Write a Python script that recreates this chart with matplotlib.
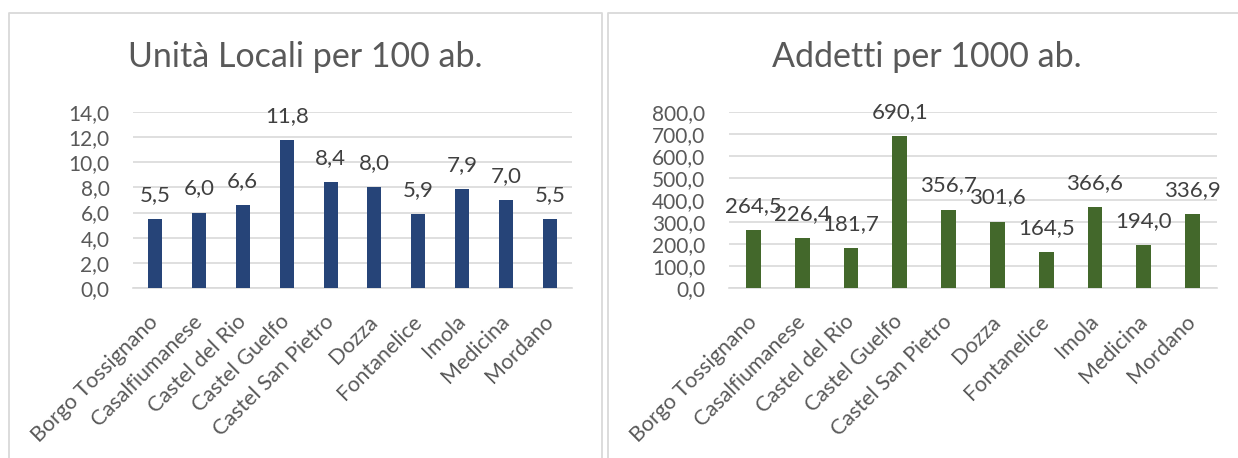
import matplotlib.pyplot as plt
from matplotlib.lines import Line2D
from matplotlib.ticker import FuncFormatter, MultipleLocator

# Dati
comuni = ['Borgo Tossignano', 'Casalfiumanese', 'Castel del Rio', 'Castel Guelfo',
          'Castel San Pietro', 'Dozza', 'Fontanelice', 'Imola', 'Medicina', 'Mordano']
unita_locali = [5.5, 6.0, 6.6, 11.8, 8.4, 8.0, 5.9, 7.9, 7.0, 5.5]
addetti = [264.5, 226.4, 181.7, 690.1, 356.7, 301.6, 164.5, 366.6, 194.0, 336.9]

titolo_sx = 'Unità Locali per 100 ab.'
titolo_dx = 'Addetti per 1000 ab.'

plt.rcParams['font.family'] = ['Lato', 'DejaVu Sans']

W, H = 1238, 458
fig = plt.figure(figsize=(W / 100, H / 100), dpi=100)

grigio = '#D9D9D9'
testo = '#595959'


def virgola(v, pos=None):
    return f'{v:.1f}'.replace('.', ',')


def px(x, y):
    # pixel -> coordinate figura
    return x / W, 1 - y / H


def grafico(rect, valori, colore, ymax, passo, larghezza):
    ax = fig.add_axes(rect)
    x = range(len(comuni))
    ax.bar(x, valori, width=larghezza, color=colore, zorder=3)
    ax.set_xlim(-0.5, len(comuni) - 0.5)
    ax.set_ylim(0, ymax)
    ax.yaxis.set_major_locator(MultipleLocator(passo))
    ax.yaxis.set_major_formatter(FuncFormatter(virgola))
    ax.grid(axis='y', color=grigio, linewidth=1.2, zorder=0)
    for s in ['top', 'right', 'left']:
        ax.spines[s].set_visible(False)
    ax.spines['bottom'].set_color(grigio)
    ax.spines['bottom'].set_linewidth(1.2)
    ax.tick_params(axis='y', length=0, labelsize=15, colors=testo, pad=17)
    ax.set_xticks(list(x))
    ax.set_xticklabels(comuni, rotation=45, ha='right', va='center',
                       rotation_mode='anchor')
    ax.tick_params(axis='x', length=0, labelsize=15.5, colors=testo, pad=22)
    for i, v in enumerate(valori):
        ax.annotate(virgola(v), (i, v), xytext=(0, 13), textcoords='offset points',
                    ha='center', va='baseline', fontsize=16, color='#404040')
    return ax


grafico([133 / W, 1 - 288 / H, (572 - 133) / W, (288 - 112) / H],
        unita_locali, '#264478', 14, 2, 0.32)
grafico([729 / W, 1 - 288 / H, (1217 - 729) / W, (288 - 112) / H],
        addetti, '#43682B', 800, 100, 0.3)

# titoli
fig.text(*px(305, 57), titolo_sx, ha='center', va='center', fontsize=24.5, color=testo)
fig.text(*px(927, 57), titolo_dx, ha='center', va='center', fontsize=24.5, color=testo)

# bordi dei riquadri
bordi = [
    [(9, 9, 602, 602), (H, 13, 13, H)],
    [(608, 608, W + 5), (H, 13, 13)],
]
for xs, ys in bordi:
    fig.add_artist(Line2D([a / W for a in xs], [1 - b / H for b in ys],
                          color=grigio, linewidth=1.3))

fig.savefig('out.png', dpi=100, facecolor='white')
